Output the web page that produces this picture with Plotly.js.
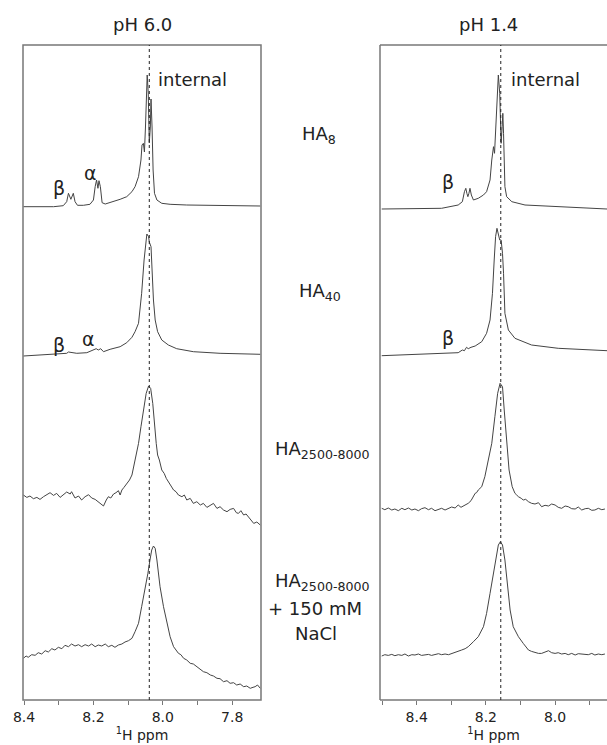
<!DOCTYPE html>
<html>
<head>
<meta charset="utf-8">
<script src="https://cdn.plot.ly/plotly-3.0.1.min.js"></script>
<style>html,body{margin:0;padding:0;background:#fff}#chart{width:607px;height:745px}</style>
</head>
<body>
<div id="chart"></div>
<script>
// ---------- pH 6.0 spectra (ppm, intensity a.u.) ----------
const ppm60_HA8 = [8.402,8.354,8.315,8.287,8.277,8.272,8.265,8.258,8.253,8.246,8.229,8.210,8.200,8.195,8.191,8.187,8.184,8.180,8.175,8.166,8.142,8.123,8.104,8.089,8.080,8.070,8.063,8.060,8.056,8.053,8.050,8.047,8.045,8.042,8.039,8.036,8.034,8.031,8.028,8.024,8.017,8.003,7.979,7.931,7.835,7.719];
const int60_HA8 = [0.3,0,0.3,1.3,5.3,13.7,7.7,13.7,5.3,1.7,1.7,2.7,7,20.3,27,18.7,26.3,20.3,4.3,3,5.3,7.7,10.3,15.3,20.3,30.3,47,62,63.7,55,80,114,132,114,64,80,108,80,37,13.7,7,3.7,2.7,2,1.3,1];

const ppm60_HA40 = [8.402,8.354,8.315,8.277,8.272,8.263,8.248,8.219,8.200,8.192,8.186,8.179,8.171,8.152,8.123,8.104,8.089,8.080,8.070,8.061,8.054,8.049,8.046,8.041,8.039,8.034,8.030,8.027,8.022,8.015,8.003,7.984,7.960,7.912,7.835,7.719];
const int60_HA40 = [-1,0.3,1,1.7,3,2.3,1.7,2.3,5,6.3,5,6.3,3.3,5.7,8.3,12.3,17.7,23.3,31.7,61.7,95,115,121,118.3,113,108.3,78.3,55,35,23.3,15,10,6.3,3.3,1.7,0.7];

const ppm60_HAlong = [8.402,8.392,8.383,8.373,8.363,8.354,8.344,8.335,8.325,8.315,8.306,8.296,8.287,8.277,8.267,8.263,8.253,8.243,8.234,8.224,8.214,8.205,8.195,8.186,8.176,8.171,8.163,8.157,8.150,8.142,8.135,8.128,8.123,8.118,8.112,8.104,8.096,8.089,8.085,8.080,8.075,8.070,8.063,8.056,8.048,8.041,8.035,8.029,8.024,8.019,8.015,8.010,8.003,7.996,7.990,7.984,7.977,7.969,7.962,7.955,7.945,7.938,7.931,7.921,7.912,7.902,7.892,7.883,7.873,7.863,7.854,7.844,7.835,7.825,7.815,7.806,7.796,7.788,7.782,7.775,7.767,7.760,7.753,7.746,7.738,7.729,7.719];
const int60_HAlong = [1.7,-0.7,0.7,-2,-0.7,-2.7,0,2,4,1.3,3.3,-0.7,2,4.7,2.7,5,-1.3,0.7,-3.3,0,2,-1.3,-2.7,-5,-7.3,-9.3,-3.3,0,-1.3,2.7,4,6,1.7,6.7,9.3,12.7,16.7,21.7,28.3,36.7,43.3,53.3,70,86.7,103.3,110.7,108.3,93.3,70,53.3,41.7,36.7,26.7,23.3,18.3,15,10,6.7,5,1.7,0,1.7,-3.3,-1.7,-6.7,-5,-8.3,-6.7,-10.7,-8.7,-6.7,-11.7,-10,-13.3,-15,-12.7,-11.7,-16,-16.7,-14,-18.3,-17.3,-20,-22.7,-26.7,-25.3,-28.3];

const ppm60_NaCl = [8.402,8.394,8.388,8.378,8.368,8.359,8.349,8.339,8.330,8.320,8.311,8.301,8.291,8.282,8.272,8.263,8.253,8.243,8.234,8.224,8.214,8.205,8.195,8.186,8.176,8.166,8.157,8.147,8.138,8.128,8.118,8.109,8.099,8.089,8.080,8.070,8.061,8.051,8.043,8.037,8.032,8.027,8.022,8.017,8.008,7.998,7.988,7.979,7.969,7.962,7.955,7.948,7.940,7.931,7.921,7.912,7.902,7.892,7.883,7.873,7.863,7.854,7.844,7.835,7.825,7.815,7.806,7.796,7.787,7.777,7.767,7.758,7.748,7.740,7.734,7.727,7.719];
const int60_NaCl = [-3.3,-1,-2.3,0.3,-0.3,2.3,1,4.3,3,6.3,5,7.7,6.3,9.7,8.3,11,9,10.3,8.3,10.3,9,11,8.3,10,9,11,8.3,9.7,7.7,10,11,13,14.3,16.7,23.3,31.7,48.3,65,81.7,95,105,109,106.7,95,68.3,48.3,31.7,18.3,8.3,5,1.7,0.3,-3.3,-5,-8.3,-9,-11.7,-13.7,-16.7,-17.7,-20,-21,-23.3,-23.7,-26.7,-25.7,-28.3,-27.7,-30,-29,-31.7,-31,-33.3,-32.3,-31.7,-30,-33.3];

// ---------- pH 1.4 spectra ----------
const ppm14_HA8 = [8.501,8.424,8.328,8.280,8.268,8.262,8.258,8.255,8.252,8.249,8.246,8.242,8.236,8.222,8.207,8.198,8.188,8.183,8.178,8.175,8.172,8.168,8.164,8.160,8.156,8.153,8.151,8.149,8.145,8.140,8.125,8.087,7.991,7.850];
const int14_HA8 = [0,0,0.7,4,7.3,17.3,20.7,15.7,12.3,15.7,20.7,14,9,10.7,14,17.3,29,49,62.3,55.7,82.3,115.7,134,115.7,65.7,82.3,95.7,75.7,22.3,12.3,7.3,4,2.3,0];

const ppm14_HA40 = [8.501,8.424,8.328,8.280,8.268,8.262,8.256,8.251,8.243,8.231,8.212,8.198,8.188,8.181,8.176,8.172,8.168,8.164,8.160,8.156,8.152,8.149,8.145,8.135,8.116,8.068,7.991,7.850];
const int14_HA40 = [-0.7,0.3,1,2.3,5,4.3,7.7,6.3,7.7,9,13.3,21.7,35,61.7,95,118.3,126.7,121.7,115,115,101.7,81.7,41.7,25,16.7,10,6.7,4.3];

const ppm14_HAlong = [8.501,8.492,8.482,8.472,8.463,8.453,8.443,8.434,8.424,8.414,8.405,8.395,8.386,8.376,8.366,8.357,8.347,8.337,8.328,8.318,8.308,8.299,8.289,8.280,8.272,8.265,8.258,8.251,8.243,8.236,8.231,8.227,8.222,8.212,8.203,8.193,8.183,8.174,8.166,8.159,8.152,8.147,8.140,8.133,8.124,8.116,8.111,8.106,8.098,8.092,8.085,8.077,8.068,8.058,8.048,8.039,8.029,8.019,8.010,8.000,7.991,7.981,7.971,7.962,7.952,7.942,7.933,7.923,7.913,7.904,7.894,7.885,7.875,7.865,7.856];
const int14_HAlong = [0.7,-0.7,1,-1,0,-1.7,0.7,-0.7,1,-1,0,-1.7,0.3,1.3,-0.7,0.7,-1.7,0,0.7,-1,0.3,2,1,4,1.7,3,5,5.7,8.3,12.3,15.7,16.3,19,22.3,32.3,49,65.7,92.3,115.7,125.7,122.3,99,65.7,39,22.3,15.7,14,12.3,10.7,9,9.7,7.3,5.7,5,6.3,2.3,3.7,3,5,4,1.7,0.7,3,2.3,0.3,0,2,-1,0.3,0.7,-1.3,-1,0.7,-0.7,0];

const ppm14_NaCl = [8.501,8.492,8.482,8.472,8.463,8.453,8.443,8.434,8.424,8.414,8.405,8.395,8.386,8.376,8.366,8.357,8.347,8.337,8.328,8.318,8.308,8.299,8.289,8.280,8.270,8.260,8.251,8.236,8.222,8.207,8.198,8.188,8.178,8.171,8.164,8.158,8.152,8.145,8.137,8.130,8.121,8.106,8.092,8.077,8.068,8.058,8.048,8.039,8.029,8.019,8.010,8.000,7.991,7.981,7.971,7.962,7.952,7.942,7.933,7.923,7.913,7.904,7.894,7.885,7.875,7.865,7.856];
const int14_NaCl = [-0.3,1,0.3,1.3,0,1,0.3,1.7,-0.3,1,0.7,1.7,0.3,1,1.3,0.3,1,2,1,1.7,1,2.3,3,4.3,5.7,7,9,14,19,29,42.3,62.3,82.3,99,110.7,114,110.7,95.7,69,45.7,29,19,12.3,5.7,4.3,3,2.3,2.3,3.7,5,3,2.3,3,1.7,2.3,1,2.3,0.7,2,1.7,0.7,1,2.3,0.7,1.7,1,1.7];

// ---------- labels ----------
const panelTitles = ['pH 6.0', 'pH 1.4'];
const sampleLabels = ['HA<sub>8</sub>', 'HA<sub>40</sub>', 'HA<sub>2500-8000</sub>'];
const saltLabel = ['HA<sub>2500-8000</sub>', '+ 150 mM', 'NaCl'];
const internalRef = [8.039, 8.157];

// ---------- layout geometry (pixels) ----------
const W = 607, H = 745;
const py = v => 1 - v / H;
const pxX = v => v / W;
const frameTop = 45, frameBot = 700;
const refsLeft = [207, 355, 496.7, 655];
const refsRight = [209, 355, 509, 655.7];
const lineCol = '#444';
const font = 'DejaVu Sans, Liberation Sans, Arial, sans-serif';

const leftSeries = [[ppm60_HA8,int60_HA8],[ppm60_HA40,int60_HA40],[ppm60_HAlong,int60_HAlong],[ppm60_NaCl,int60_NaCl]];
const rightSeries = [[ppm14_HA8,int14_HA8],[ppm14_HA40,int14_HA40],[ppm14_HAlong,int14_HAlong],[ppm14_NaCl,int14_NaCl]];

const traces = [];
const layout = {
  width: W, height: H,
  margin: {l:0, r:0, t:0, b:0},
  paper_bgcolor: '#fff', plot_bgcolor: 'rgba(0,0,0,0)',
  showlegend: false,
  font: {family: font, color: '#222'},
  shapes: [], annotations: []
};

const xCommon = {
  anchor: 'free', position: py(frameBot),
  tickmode: 'linear', tick0: 8.0, dtick: 0.2, tickformat: '.1f',
  ticks: 'outside', ticklen: 4, tickwidth: 1, tickcolor: '#777',
  minor: {dtick: 0.1, tick0: 8.0, ticks: 'outside', ticklen: 4, tickwidth: 1, tickcolor: '#777', showgrid: false},
  showgrid: false, zeroline: false, showline: false,
  tickfont: {family: font, size: 14, color: '#222'},
  title: {text: '<sup>1</sup>H ppm', font: {family: font, size: 14, color: '#222'}, standoff: 3},
  automargin: false, fixedrange: true
};
layout.xaxis = Object.assign({}, xCommon, {domain: [pxX(23), pxX(261)], range: [8.403, 7.717]});
layout.xaxis2 = Object.assign({}, xCommon, {domain: [pxX(380), 1], range: [8.506, 7.85]});

function addSpectra(series, refs, xa, startIdx) {
  series.forEach((s, i) => {
    const n = startIdx + i;
    const yname = n === 1 ? 'yaxis' : 'yaxis' + n;
    const yref = n === 1 ? 'y' : 'y' + n;
    layout[yname] = {
      domain: [py(refs[i] + 40), py(refs[i] - 140)],
      range: [-40, 140], visible: false, anchor: xa, fixedrange: true
    };
    traces.push({x: s[0], y: s[1], xaxis: xa, yaxis: yref, type: 'scatter', mode: 'lines',
      line: {color: lineCol, width: 1}, hoverinfo: 'skip'});
  });
}
addSpectra(leftSeries, refsLeft, 'x', 1);
addSpectra(rightSeries, refsRight, 'x2', 5);

// frames
const frameLine = {color: '#777', width: 1.5};
layout.shapes.push({type:'rect', xref:'paper', yref:'paper', x0:pxX(23), x1:pxX(261), y0:py(frameBot), y1:py(frameTop), line: frameLine});
layout.shapes.push({type:'line', xref:'paper', yref:'paper', x0:pxX(380), x1:pxX(380), y0:py(frameBot), y1:py(frameTop), line: frameLine});
layout.shapes.push({type:'line', xref:'paper', yref:'paper', x0:pxX(380), x1:1, y0:py(frameTop), y1:py(frameTop), line: frameLine});
layout.shapes.push({type:'line', xref:'paper', yref:'paper', x0:pxX(380), x1:1, y0:py(frameBot), y1:py(frameBot), line: frameLine});
// internal reference dotted lines
['x','x2'].forEach((xa, i) => {
  layout.shapes.push({type:'line', xref:xa, yref:'paper', x0:internalRef[i], x1:internalRef[i],
    y0:py(frameBot), y1:py(frameTop), line:{color:'#222', width:1, dash:'dot'}});
});

function ann(text, x, y, size, xanchor) {
  layout.annotations.push({text, x: pxX(x), y: py(y), xref:'paper', yref:'paper', showarrow:false,
    xanchor: xanchor || 'center', yanchor:'middle', font:{family:font, size:size, color:'#222'}});
}
ann(panelTitles[0], 142, 25, 18);
ann(panelTitles[1], 488, 25, 18);
ann('internal', 156, 80, 18, 'left');
ann('internal', 509, 80, 18, 'left');
ann(sampleLabels[0], 319, 135, 18);
ann(sampleLabels[1], 320, 292, 18);
ann(sampleLabels[2], 322, 450, 18);
ann(saltLabel[0], 322, 582, 18);
ann(saltLabel[1], 315, 608, 18);
ann(saltLabel[2], 316, 633, 18);
// peak labels
ann('β', 59, 188, 19); ann('α', 90, 173, 19);
ann('β', 59, 345, 19); ann('α', 88, 339, 19);
ann('β', 448, 182, 19); ann('β', 448, 338, 19);

Plotly.newPlot('chart', traces, layout, {displayModeBar:false, staticPlot:true});
</script>
</body>
</html>
